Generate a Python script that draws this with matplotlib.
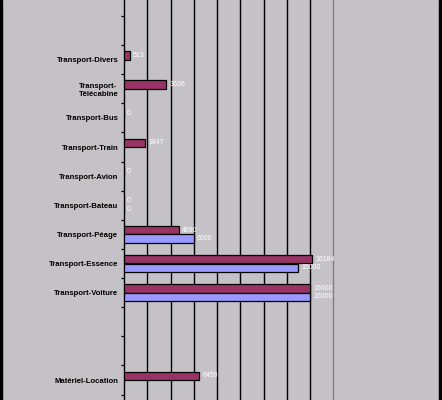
import numpy as np
import matplotlib
matplotlib.use('Agg')
import matplotlib.pyplot as plt
from matplotlib.patches import Rectangle

# categories from top to bottom, empty strings are blank slots
categories = ['', 'Transport-Divers', 'Transport-\nTélécabine', 'Transport-Bus',
              'Transport-Train', 'Transport-Avion', 'Transport-Bateau',
              'Transport-Péage', 'Transport-Essence', 'Transport-Voiture',
              '', '', 'Matériel-Location']
serie1 = [np.nan, 513, 3636, 0, 1847, 0, 0, 4690, 16184, 16000, np.nan, np.nan, 6459]
serie2 = [np.nan, np.nan, np.nan, np.nan, np.nan, np.nan, 0, 6000, 15000, 16000, np.nan, np.nan, np.nan]
grid_values = [2000, 4000, 6000, 8000, 10000, 12000, 14000, 16000]

bg = '#c4c2c6'
color1 = '#993366'
color2 = '#9999ff'

W, H = 442, 400
fig = plt.figure(figsize=(W / 100, H / 100), dpi=100, facecolor=bg)
ax = fig.add_axes([124 / W, 0, (333.3 - 124) / W, 1], facecolor=bg)

y = np.arange(len(categories))
off = 0.147
bh = 0.29
ax.barh(y - off, serie1, height=bh, color=color1, edgecolor='black', linewidth=0.9, zorder=3)
ax.barh(y + off, serie2, height=bh, color=color2, edgecolor='black', linewidth=0.9, zorder=3)

for vals, dy in [(serie1, -off), (serie2, off)]:
    for i, v in enumerate(vals):
        if np.isnan(v):
            continue
        ax.annotate(f'{int(v)}', (v, i + dy), xytext=(2.2, 0), textcoords='offset points',
                    color='white', fontsize=5, va='center', ha='left',
                    family='Liberation Sans', zorder=4, annotation_clip=False)

# pixel 0 -> slot -1.047, pixel 400 -> slot 12.685
ax.set_ylim(12.685, -1.047)
ax.set_xlim(0, 18000)

ax.set_yticks(y)
ax.set_yticklabels(categories, family='Liberation Sans', fontsize=5.6, fontweight='bold',
                   multialignment='center')
ax.tick_params(axis='y', which='major', length=0, pad=4)
ax.set_yticks(np.arange(-0.5, len(categories), 1), minor=True)
ax.tick_params(axis='y', which='minor', length=2.5, width=0.9, direction='out', color='black')

ax.set_xticks(grid_values)
ax.tick_params(axis='x', length=0, labelbottom=False)
ax.grid(axis='x', color='black', linewidth=1.0, zorder=1)
ax.set_axisbelow(True)

ax.spines['top'].set_visible(False)
ax.spines['bottom'].set_visible(False)
ax.spines['left'].set_color('black')
ax.spines['left'].set_linewidth(1.0)
ax.spines['right'].set_color('#808080')
ax.spines['right'].set_linewidth(1.0)

# black borders at left and right edges
fig.patches.append(Rectangle((0, 0), 2 / W, 1, transform=fig.transFigure, color='black', zorder=10))
fig.patches.append(Rectangle((439 / W, 0), 3 / W, 1, transform=fig.transFigure, color='black', zorder=10))

fig.savefig('out.png', dpi=100, facecolor=bg)
